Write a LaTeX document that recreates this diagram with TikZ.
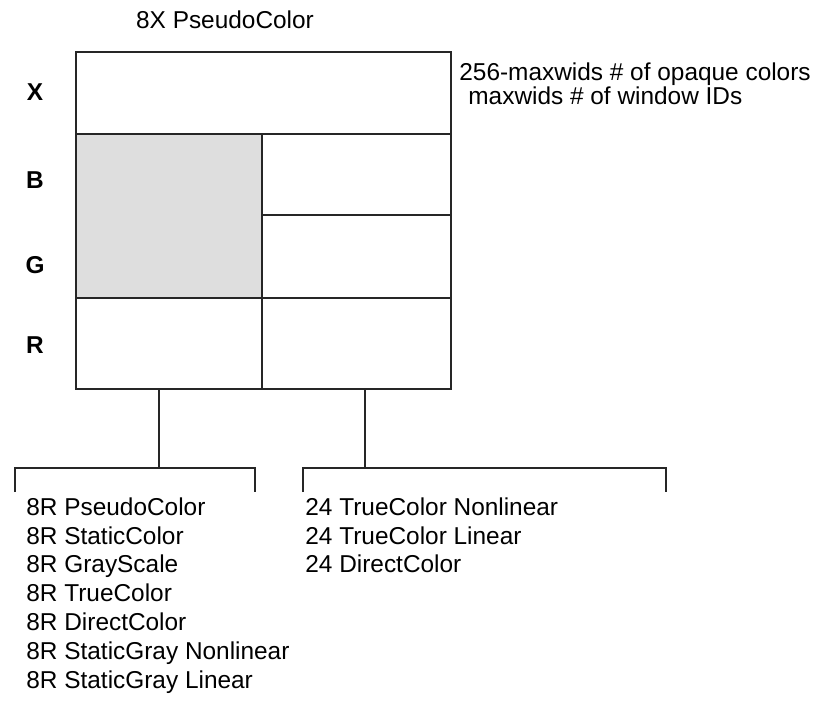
\documentclass[tikz,border=0pt]{standalone}
\usepackage{fontspec}
\setmainfont{Liberation Sans}
\tikzset{
  lbl/.style={inner sep=0pt, text height=8.8pt, text depth=2.6pt, font=\fontsize{12.2}{14.5}\selectfont},
  rowlbl/.style={lbl, font=\fontsize{12.2}{14.5}\selectfont\bfseries},
  ln/.style={line width=0.6pt, color=black!85}
}
\begin{document}
\begin{tikzpicture}[x=0.5pt,y=-0.5pt]
\useasboundingbox (0,0) rectangle (817,715);
% gray part of the B and G rows
\fill[black!13] (76,134) rectangle (262,298);
% the frame buffer box
\draw[ln] (76,52) rectangle (451,389);
\draw[ln] (76,134) -- (451,134);
\draw[ln] (262,134) -- (262,389);
\draw[ln] (262,215) -- (451,215);
\draw[ln] (76,298) -- (451,298);
\node[lbl] (title) at (225,22) {8X PseudoColor};
\foreach \n/\y in {X/94,B/182,G/267,R/347} % row names
\node[rowlbl] (row\n) at (35,\y) {\n};
\node[lbl, anchor=west] (opq) at (459,74) {256-maxwids \# of opaque colors};
\node[lbl, anchor=west] (wid) at (468,98) {maxwids \# of window IDs};
% stems and brackets
\coordinate (ltop) at (159,389);
\coordinate (lmid) at (159,468);
\coordinate (rtop) at (365,389);
\coordinate (rmid) at (365,468);
\draw[ln] (ltop) -- (lmid);
\draw[ln] (rtop) -- (rmid);
\draw[ln] (15,492) -- (15,468) -- (255,468) -- (255,492);
\draw[ln] (303,492) -- (303,468) -- (666,468) -- (666,492);
\foreach \i/\texto in {0/{8R PseudoColor},1/{8R StaticColor},2/{8R GrayScale},3/{8R TrueColor},4/{8R DirectColor},5/{8R StaticGray Nonlinear},6/{8R StaticGray Linear}}
\node[lbl, anchor=west] (l\i) at (26,509+28.8*\i) {\texto};
\foreach \i/\texto in {0/{24 TrueColor Nonlinear},1/{24 TrueColor Linear},2/{24 DirectColor}}
\node[lbl, anchor=west] (r\i) at (305,509+28.8*\i) {\texto};
\end{tikzpicture}
\end{document}
